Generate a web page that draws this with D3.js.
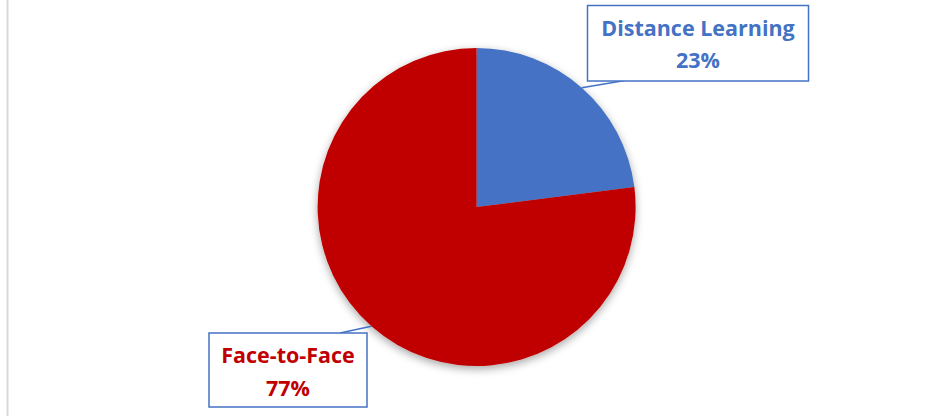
<!DOCTYPE html>
<html>
<head>
<meta charset="utf-8">
<script src="https://cdn.jsdelivr.net/npm/d3@7"></script>
<style>
  body { margin: 0; background: #fff; }
  text { font-family: "Open Sans", "Liberation Sans", sans-serif; font-weight: bold; }
</style>
</head>
<body>
<div class="pie-plot"></div>
<script>
const width = 935;
const height = 418;

const categories = ['Distance Learning', 'Face-to-Face'];
const values = [23, 77];
const colors = ['#4472C4', '#C00000'];
const labelText = ['#4472C4', '#C00000'];

const data = categories.map((c, i) => ({ name: c, value: values[i] }));

const svg = d3.select('.pie-plot')
  .append('svg')
  .attr('width', width)
  .attr('height', height);

// soft shadow under the pie
const defs = svg.append('defs');
const f = defs.append('filter').attr('id', 'shadow')
  .attr('x', '-20%').attr('y', '-20%').attr('width', '140%').attr('height', '140%');
f.append('feDropShadow')
  .attr('dx', 0).attr('dy', 3).attr('stdDeviation', 4)
  .attr('flood-color', '#000').attr('flood-opacity', 0.35);

// left frame line
svg.append('line')
  .attr('x1', 7.5).attr('x2', 7.5)
  .attr('y1', 0).attr('y2', 416)
  .attr('stroke', '#d9d9d9').attr('stroke-width', 2);

const cx = 476.6, cy = 207, r = 159;

const pie = d3.pie().sort(null).value(d => d.value);
const arc = d3.arc().innerRadius(0).outerRadius(r);
const arcs = pie(data);

const g = svg.append('g')
  .attr('transform', `translate(${cx},${cy})`)
  .attr('filter', 'url(#shadow)');

g.selectAll('.slice')
  .data(arcs)
  .enter()
  .append('path')
  .attr('class', 'slice')
  .attr('d', arc)
  .attr('fill', (d, i) => colors[i]);

// label boxes
const boxes = [
  { x: 587.5, y: 5.5, w: 221, h: 75.5, tx: 698, line1: 36, line2: 68, lead: [625, 80.5] },
  { x: 209, y: 333, w: 158, h: 74, tx: 288, line1: 363, line2: 396, lead: [340, 333] }
];

const total = d3.sum(values);

arcs.forEach((a, i) => {
  const b = boxes[i];
  const mid = (a.startAngle + a.endAngle) / 2;
  const px = cx + r * Math.sin(mid);
  const py = cy - r * Math.cos(mid);

  svg.append('polyline')
    .attr('points', `${px},${py} ${b.lead[0]},${b.lead[1]}`)
    .attr('fill', 'none')
    .attr('stroke', '#4472C4')
    .attr('stroke-width', 1.5);

  svg.append('rect')
    .attr('x', b.x).attr('y', b.y)
    .attr('width', b.w).attr('height', b.h)
    .attr('fill', '#fff')
    .attr('stroke', '#4472C4')
    .attr('stroke-width', 1.5);

  svg.append('text')
    .attr('x', b.tx).attr('y', b.line1)
    .attr('text-anchor', 'middle')
    .attr('font-size', 21.5)
    .attr('fill', labelText[i])
    .text(categories[i]);

  svg.append('text')
    .attr('x', b.tx).attr('y', b.line2)
    .attr('text-anchor', 'middle')
    .attr('font-size', 21.5)
    .attr('fill', labelText[i])
    .text(Math.round(values[i] / total * 100) + '%');
});
</script>
</body>
</html>
